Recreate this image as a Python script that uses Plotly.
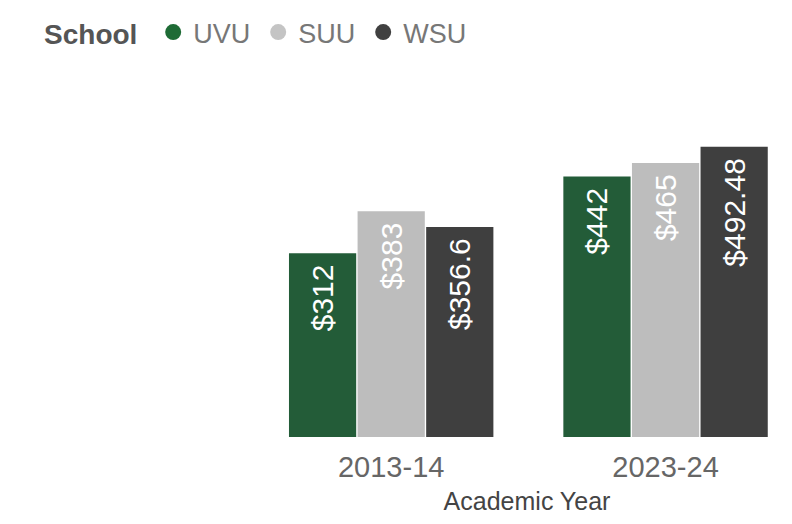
import plotly.graph_objects as go

years = ["2013-14", "2023-24"]
schools = ["UVU", "SUU", "WSU"]
uvu = [312, 442]
suu = [383, 465]
wsu = [356.6, 492.48]
values = [uvu, suu, wsu]
colors = ["#235C38", "#BDBDBD", "#3F3F3F"]
legend_colors = ["#1E6B35", "#C4C4C4", "#404040"]

fig = go.Figure()
for name, vals, col in zip(schools, values, colors):
    fig.add_trace(go.Bar(
        x=years, y=vals, name=name, marker_color=col, marker_line_width=0,
        texttemplate="$%{y}\u00a0", textposition="inside", textangle=-90,
        insidetextanchor="end",
        insidetextfont=dict(family="Liberation Sans", size=30, color="white"),
        showlegend=False,
    ))
# legend entries with circular markers
for name, col in zip(schools, legend_colors):
    fig.add_trace(go.Scatter(
        x=[None], y=[None], mode="markers", name=name,
        marker=dict(symbol="circle", size=20, color=col),
    ))

fig.update_layout(
    width=792, height=524,
    paper_bgcolor="white", plot_bgcolor="white",
    margin=dict(l=246, r=0, t=92, b=95),
    barmode="group", bargap=0.25, bargroupgap=0.02,
    font=dict(family="Liberation Sans", color="#666666"),
    legend=dict(
        orientation="h", xref="container", yref="container",
        x=0.043, y=1.0, xanchor="left", yanchor="top",
        title=dict(text="<b>School</b>\u00a0", font=dict(size=28, color="#555555")),
        font=dict(size=27, color="#777777"),
        itemwidth=30, tracegroupgap=0, entrywidth=60,
    ),
    xaxis=dict(
        range=[-0.5, 1.49], showgrid=False, showline=False, zeroline=False,
        ticks="", ticklabelstandoff=10,
        tickfont=dict(size=29, color="#666666"),
        title=dict(text="Academic Year", font=dict(size=25, color="#444444"), standoff=10),
    ),
    yaxis=dict(range=[0, 572], visible=False),
)

fig.write_html("out.html")
